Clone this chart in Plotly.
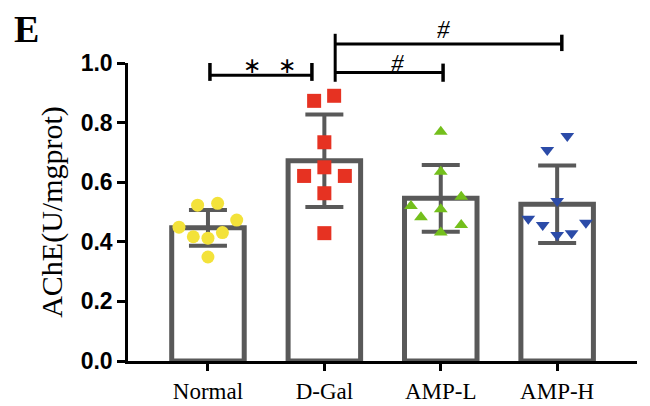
import plotly.graph_objects as go

groups = ["Normal", "D-Gal", "AMP-L", "AMP-H"]
means = [0.447, 0.672, 0.546, 0.526]
sds = [0.060, 0.155, 0.112, 0.130]

normal_vals = [0.523, 0.529, 0.473, 0.449, 0.417, 0.412, 0.431, 0.349]
normal_jit = [-0.089, 0.083, 0.247, -0.249, -0.126, 0.0, 0.124, 0.0]
dgal_vals = [0.873, 0.890, 0.734, 0.650, 0.621, 0.621, 0.563, 0.429]
dgal_jit = [-0.088, 0.084, 0.0, 0.0, -0.174, 0.176, 0.0, 0.0]
ampl_vals = [0.769, 0.635, 0.551, 0.520, 0.509, 0.482, 0.456, 0.431]
ampl_jit = [0.0, 0.0, 0.176, -0.256, 0.0, -0.170, 0.176, 0.0]
amph_vals = [0.755, 0.708, 0.537, 0.477, 0.456, 0.464, 0.423, 0.429]
amph_jit = [0.087, -0.085, 0.0, -0.248, -0.124, 0.247, 0.0, 0.124]

yticks = [0.0, 0.2, 0.4, 0.6, 0.8, 1.0]

GRAY = "#595959"
point_sets = [
    (normal_vals, normal_jit, "circle", "#F3E23A", 13),
    (dgal_vals, dgal_jit, "square", "#E63222", 14),
    (ampl_vals, ampl_jit, "triangle-up", "#74BF1C", 12),
    (amph_vals, amph_jit, "triangle-down", "#2B4BA8", 12),
]

fig = go.Figure()
xs = list(range(len(groups)))
fig.add_trace(go.Bar(
    x=xs, y=means, width=0.623,
    marker=dict(color="white", line=dict(color=GRAY, width=5)),
    error_y=dict(type="data", array=sds, visible=True, color=GRAY,
                 thickness=4, width=19),
    showlegend=False, hoverinfo="skip",
))
for i, (vals, jit, sym, col, sz) in enumerate(point_sets):
    fig.add_trace(go.Scatter(
        x=[i + j for j in jit], y=vals, mode="markers",
        marker=dict(symbol=sym, color=col, size=sz, line=dict(width=0)),
        showlegend=False, cliponaxis=False,
    ))

# significance brackets (y in paper units == data units since range is [0,1])
def vline(x, y0, y1, w=3):
    fig.add_shape(type="line", xref="x", yref="paper", x0=x, x1=x, y0=y0, y1=y1,
                  line=dict(color="black", width=w))

def hline(x0, x1, y, w=3):
    fig.add_shape(type="line", xref="x", yref="paper", x0=x0, x1=x1, y0=y, y1=y,
                  line=dict(color="black", width=w))

hline(0.017, 0.893, 0.959)
vline(0.017, 0.940, 1.000, 3.5)
vline(0.893, 0.940, 1.000, 3.5)
vline(1.093, 0.937, 1.098)
hline(1.093, 2.02, 0.968)
vline(2.02, 0.937, 0.998, 3.5)
hline(1.093, 3.04, 1.064)
vline(3.04, 1.040, 1.095, 3.5)

star_font = dict(family="DejaVu Sans", size=22, color="black")
hash_font = dict(family="Liberation Serif", size=25, color="black")
for xx in (0.38, 0.68):
    fig.add_annotation(x=xx, y=0.99, xref="x", yref="paper", text="∗", showarrow=False,
                       xanchor="center", yanchor="middle", font=star_font)
fig.add_annotation(x=1.63, y=1.0, xref="x", yref="paper", text="<i>#</i>", showarrow=False,
                   xanchor="center", yanchor="middle", font=hash_font)
fig.add_annotation(x=2.02, y=1.113, xref="x", yref="paper", text="<i>#</i>", showarrow=False,
                   xanchor="center", yanchor="middle", font=hash_font)
fig.add_annotation(x=-0.2, y=1.114, xref="paper", yref="paper", text="<b>E</b>",
                   showarrow=False, xanchor="center", yanchor="middle",
                   font=dict(family="Liberation Serif", size=38, color="black"))

fig.update_layout(
    width=634, height=398,
    margin=dict(l=120, r=5, t=55, b=45),
    plot_bgcolor="white", paper_bgcolor="white",
)
fig.update_xaxes(
    range=[-0.687, 3.686], tickvals=xs, ticktext=groups, automargin=False,
    showline=True, linecolor="black", linewidth=3,
    ticks="outside", ticklen=7, tickwidth=2.5, tickcolor="black",
    showgrid=False, zeroline=False,
    tickfont=dict(family="Liberation Serif", size=23, color="black"),
)
fig.update_yaxes(
    range=[0, 1.0], tickvals=yticks, ticktext=[f"{v:.1f}" for v in yticks],
    automargin=False,
    showline=True, linecolor="black", linewidth=2.5,
    ticks="outside", ticklen=8, tickwidth=2.5, tickcolor="black",
    showgrid=False, zeroline=False,
    tickfont=dict(family="Liberation Sans", size=23, color="black", weight="bold"),
    title=dict(text="AChE(U/mgprot)", standoff=10,
               font=dict(family="Liberation Serif", size=30, color="black")),
)

fig.write_html("out.html")
